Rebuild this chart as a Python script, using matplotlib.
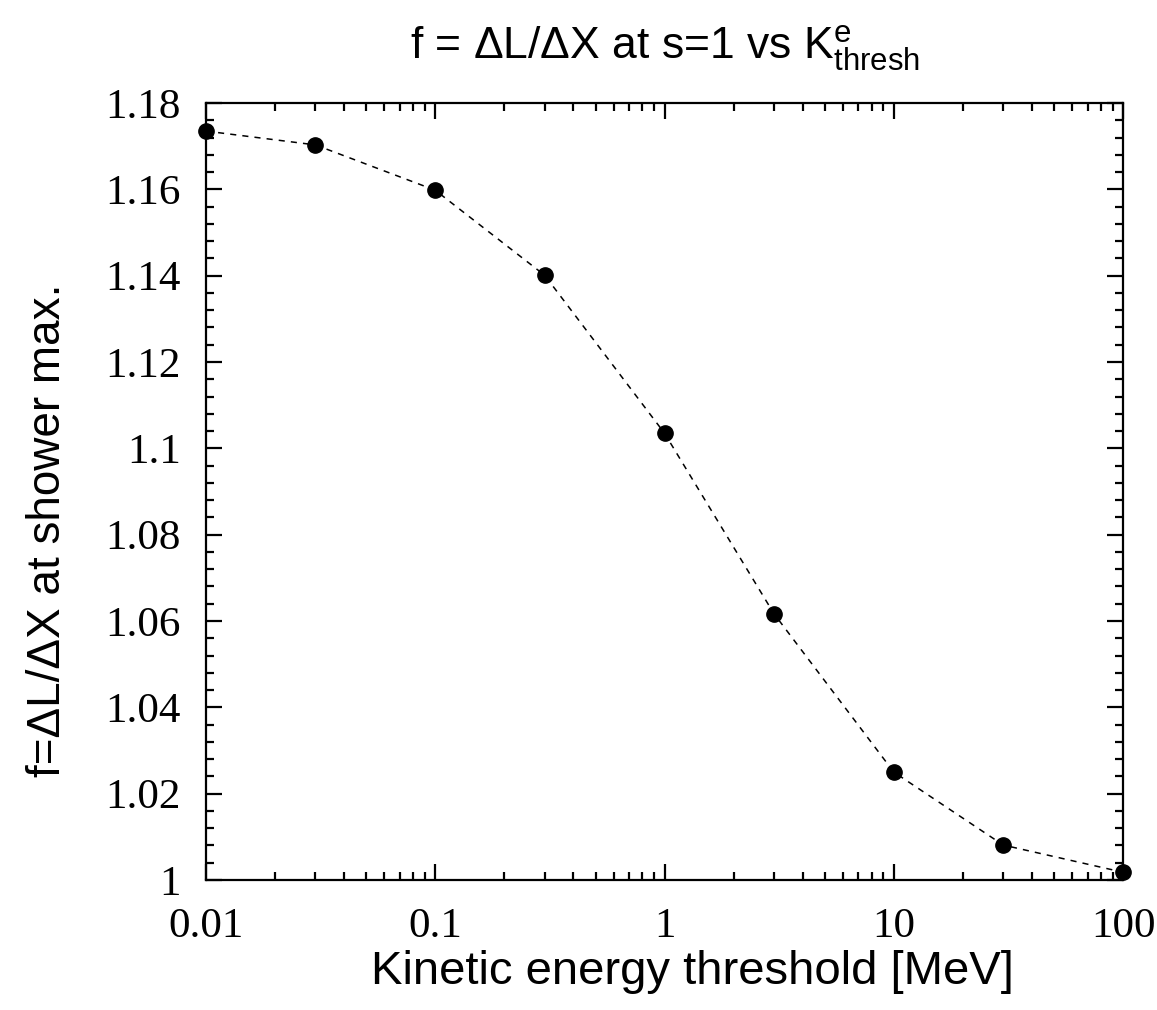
#!/usr/bin/env python3
import numpy as np
import matplotlib
matplotlib.use('Agg')
import matplotlib.pyplot as plt
from matplotlib.ticker import LogLocator, MultipleLocator, FuncFormatter

# Data
k_thresh = [0.01, 0.03, 0.1, 0.3, 1, 3, 10, 30, 100]
f_ratio = [1.1735, 1.1703, 1.1598, 1.1401, 1.1035, 1.0617, 1.0250, 1.0081, 1.0018]

x_ticks = [0.01, 0.1, 1, 10, 100]
x_ticklabels = ['0.01', '0.1', '1', '10', '100']

plt.rcParams['mathtext.fontset'] = 'custom'
plt.rcParams['mathtext.rm'] = 'Liberation Sans'
plt.rcParams['mathtext.it'] = 'Liberation Sans'

fig = plt.figure(figsize=(11.57, 10.10), dpi=100)
ax = fig.add_axes([0.178, 0.1287, 0.7927, 0.7693])

ax.plot(k_thresh, f_ratio, linestyle=(0, (4, 4)), color='black', linewidth=1.1, zorder=2)
ax.plot(k_thresh, f_ratio, 'o', color='black', markersize=11, zorder=3, clip_on=False)

ax.set_xscale('log')
ax.set_xlim(0.01, 100)
ax.set_ylim(1.0, 1.18)

ax.set_xticks(x_ticks)
ax.set_xticklabels(x_ticklabels)
ax.xaxis.set_minor_locator(LogLocator(base=10, subs=np.arange(2, 10)))
ax.yaxis.set_major_locator(MultipleLocator(0.02))
ax.yaxis.set_minor_locator(MultipleLocator(0.004))
ax.yaxis.set_major_formatter(FuncFormatter(lambda v, p: f'{v:.2f}'.rstrip('0').rstrip('.')))

for lab in ax.get_xticklabels() + ax.get_yticklabels():
    lab.set_fontfamily('Liberation Serif')
    lab.set_fontsize(31)

ax.tick_params(which='both', direction='in', top=True, right=True, width=1.6)
ax.tick_params(which='major', length=11.5)
ax.tick_params(which='minor', length=5.5)
ax.tick_params(axis='y', which='major', pad=18)
ax.tick_params(axis='x', which='major', pad=20)
for sp in ax.spines.values():
    sp.set_linewidth(1.6)

ax.set_xlabel('Kinetic energy threshold [MeV]', fontsize=34,
              fontfamily='Liberation Sans')
ax.xaxis.set_label_coords(0.53, -0.09)
ax.set_ylabel('f=ΔL/ΔX at shower max.', fontsize=33,
              fontfamily='Liberation Sans')
ax.yaxis.set_label_coords(-0.148, 0.45)
ax.set_title(r'f = ΔL/ΔX at s=1 vs K$^{\mathrm{e}}_{\mathrm{thresh}}$', fontsize=32,
             fontfamily='Liberation Sans', pad=32)

fig.savefig('out.png', dpi=100)
print("Plot saved to out.png")
